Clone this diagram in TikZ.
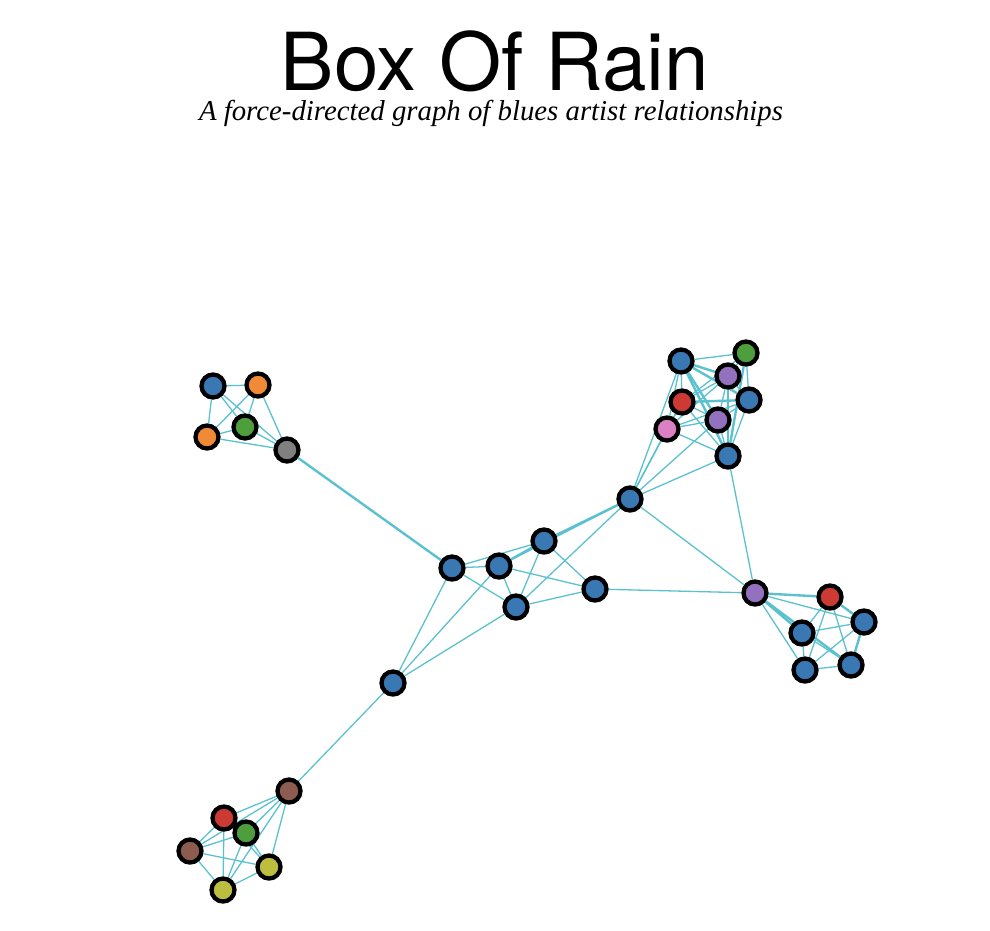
\documentclass[tikz,border=0pt]{standalone}
\usepackage{fontspec}
\setmainfont{Liberation Serif}
\newfontfamily\headfont{TeX Gyre Heros}
\usetikzlibrary{backgrounds}
\definecolor{link}{HTML}{5BC1CF}
\definecolor{nblue}{HTML}{3A78B4}
\definecolor{norange}{HTML}{F08A36}
\definecolor{ngreen}{HTML}{4E9E3E}
\definecolor{ngray}{HTML}{808080}
\definecolor{nred}{HTML}{CB3A33}
\definecolor{npurple}{HTML}{9471BE}
\definecolor{npink}{HTML}{DA80C3}
\definecolor{nbrown}{HTML}{8C5C50}
\definecolor{nolive}{HTML}{BDBD40}

\begin{document}
\begin{tikzpicture}[x=1pt,y=-1pt,
  artist/.style={circle,draw=black,line width=4.3pt,minimum size=23pt,inner sep=0pt},
  rel/.style={draw=link,line width=1.3pt},
  strong/.style={draw=link,line width=2.4pt}]
\useasboundingbox (0,0) rectangle (990,930);

% title
\node[font=\headfont\fontsize{80}{80}\selectfont,anchor=base,inner sep=0pt] (title) at (495,90) {Box Of Rain};
\node[font=\itshape\fontsize{28.8}{28.8}\selectfont,anchor=base,inner sep=0pt] (subtitle) at (491,120) {A force-directed graph of blues artist relationships};

% upper left group
\node[artist,fill=nblue]   (a1) at (213,386) {};
\node[artist,fill=norange] (a2) at (258,385) {};
\node[artist,fill=ngreen]  (a3) at (245,427) {};
\node[artist,fill=norange] (a4) at (207,437) {};
\node[artist,fill=ngray]   (a5) at (287,450) {};

% middle
\node[artist,fill=nblue] (c1) at (452,568) {};
\node[artist,fill=nblue] (c2) at (499,566) {};
\node[artist,fill=nblue] (c3) at (544,541) {};
\node[artist,fill=nblue] (c4) at (516,607) {};
\node[artist,fill=nblue] (c5) at (595,589) {};
\node[artist,fill=nblue] (c6) at (393,683) {};
\node[artist,fill=nblue] (h)  at (630,499) {};

% upper right group
\node[artist,fill=nblue]   (t1) at (681,361) {};
\node[artist,fill=ngreen]  (t2) at (746,353) {};
\node[artist,fill=npurple] (t3) at (728,376) {};
\node[artist,fill=nred]    (t4) at (682,402) {};
\node[artist,fill=nblue]   (t5) at (749,400) {};
\node[artist,fill=npurple] (t6) at (718,420) {};
\node[artist,fill=npink]   (t7) at (667,429) {};
\node[artist,fill=nblue]   (t8) at (728,456) {};

% right group
\node[artist,fill=npurple] (p)  at (755,593) {};
\node[artist,fill=nred]    (r1) at (830,597) {};
\node[artist,fill=nblue]   (r2) at (864,622) {};
\node[artist,fill=nblue]   (r3) at (802,633) {};
\node[artist,fill=nblue]   (r4) at (805,670) {};
\node[artist,fill=nblue]   (r5) at (851,665) {};

% lower left group
\node[artist,fill=nbrown]  (b1) at (289,791) {};
\node[artist,fill=nred]    (b2) at (224,818) {};
\node[artist,fill=ngreen]  (b3) at (246,833) {};
\node[artist,fill=nbrown]  (b4) at (190,851) {};
\node[artist,fill=nolive]  (b5) at (269,867) {};
\node[artist,fill=nolive]  (b6) at (223,890) {};

\begin{scope}[on background layer]
  \foreach \u/\v in {a1/a2,a1/a3,a1/a4,a1/a5,a2/a3,a2/a4,a2/a5,a3/a4,a3/a5,a4/a5,
      c1/c2,c1/c3,c1/c4,c1/c6,c2/c4,c2/c5,c2/c6,c2/h,c3/c4,c3/c5,c4/c5,c4/c6,c4/h,
      c5/p,c6/b1,h/p,h/t1,h/t4,h/t6,h/t7,h/t8,t8/p,
      t1/t2,t1/t4,t1/t7,t2/t3,t2/t4,t2/t5,t3/t4,t3/t5,t3/t6,t3/t7,t3/t8,
      t4/t6,t4/t7,t4/t8,t5/t6,t5/t7,t5/t8,t6/t7,t6/t8,t7/t8,
      p/r2,p/r4,r1/r2,r1/r3,r1/r4,r1/r5,r2/r3,r2/r4,r2/r5,r3/r4,r3/r5,r4/r5,
      b1/b2,b1/b3,b1/b4,b1/b5,b1/b6,b2/b3,b2/b4,b2/b5,b2/b6,b3/b4,b3/b5,b3/b6,
      b4/b5,b4/b6,b5/b6}
    \draw[rel] (\u) -- (\v);
  \foreach \u/\v in {a5/c1,c2/c3,c3/h,t1/t3,t1/t5,t1/t6,t1/t8,t2/t8,t4/t5,
      p/r1,p/r3,p/r5,r1/r2,r2/r5}
    \draw[strong] (\u) -- (\v);
\end{scope}
\end{tikzpicture}
\end{document}
